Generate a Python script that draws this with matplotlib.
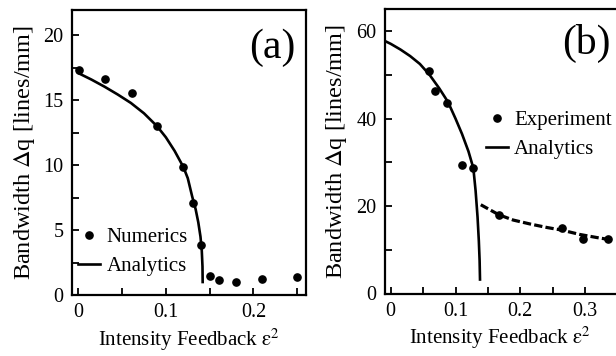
import matplotlib
matplotlib.use("Agg")
import matplotlib.pyplot as plt
from matplotlib.ticker import FixedLocator, FixedFormatter, MultipleLocator

plt.rcParams['font.family'] = ['Liberation Serif', 'DejaVu Serif']
plt.rcParams['mathtext.fontset'] = 'stix'

# ---- Panel (a) data ----
a_num_x = [0.001, 0.031, 0.061, 0.0895, 0.120, 0.1306, 0.1397, 0.1507, 0.161, 0.180, 0.210, 0.250]
a_num_y = [17.35, 16.65, 15.55, 13.0, 9.86, 7.09, 3.88, 1.5, 1.14, 0.98, 1.25, 1.37]
a_ana_x = [0.0, 0.015, 0.030, 0.045, 0.060, 0.075, 0.090, 0.100, 0.110, 0.120,
           0.125, 0.130, 0.134, 0.137, 0.1395, 0.1410, 0.1418, 0.1420]
a_ana_y = [17.1, 16.6, 16.05, 15.45, 14.8, 14.0, 13.0, 12.15, 11.1, 9.86,
           9.0, 7.6, 6.6, 5.6, 4.5, 3.4, 2.2, 1.0]
a_xticks = [0.0, 0.1, 0.2]
a_xtick_labels = ["0", "0.1", "0.2"]
a_yticks = [0, 5, 10, 15, 20]

# ---- Panel (b) data ----
b_exp_x = [0.0586, 0.0688, 0.0864, 0.1095, 0.1275, 0.1676, 0.264, 0.297, 0.336]
b_exp_y = [51.0, 46.3, 43.6, 29.4, 28.7, 18.0, 14.9, 12.4, 12.4]
b_ana_x = [-0.0083, 0.0, 0.015, 0.030, 0.045, 0.060, 0.075, 0.0884, 0.100, 0.110,
           0.120, 0.1275, 0.131, 0.134, 0.136, 0.1372, 0.1378]
b_ana_y = [57.7, 57.1, 55.8, 54.3, 52.5, 50.0, 46.9, 43.8, 40.0, 36.5,
           32.5, 28.7, 23.5, 17.5, 12.0, 7.5, 3.2]
b_dash_x = [0.139, 0.167, 0.189, 0.215, 0.241, 0.264, 0.292, 0.318, 0.343]
b_dash_y = [20.3, 18.0, 16.8, 15.9, 15.1, 14.5, 13.5, 12.8, 12.2]
b_xticks = [0.0, 0.1, 0.2, 0.3]
b_xtick_labels = ["0", "0.1", "0.2", "0.3"]
b_yticks = [0, 20, 40, 60]

W, H = 616, 356
fig = plt.figure(figsize=(W / 100, H / 100), dpi=100)

def px_axes(l, r, t, b):
    return fig.add_axes([l / W, 1 - b / H, (r - l) / W, (b - t) / H])

axa = px_axes(72, 306, 9.5, 295)
axb = px_axes(384.7, 616, 9.3, 293.5)

XLBL = 15
YLBL = 17.5
TCK = 14.5
LEG = 15

def style(ax):
    for s in ax.spines.values():
        s.set_linewidth(1.6)
    ax.tick_params(which='both', direction='in', length=5, width=1.3,
                   labelsize=TCK, pad=6)

# Panel a
axa.plot(a_ana_x, a_ana_y, color='black', lw=1.9, label='Analytics', zorder=2)
axa.plot(a_num_x, a_num_y, 'o', color='black', ms=5.2, label='Numerics', zorder=3)
axa.set_xlim(-0.0072, 0.26)
axa.set_ylim(0, 22)
axa.xaxis.set_major_locator(FixedLocator(a_xticks))
axa.xaxis.set_major_formatter(FixedFormatter(a_xtick_labels))
axa.xaxis.set_minor_locator(MultipleLocator(0.05))
axa.yaxis.set_major_locator(FixedLocator(a_yticks))
axa.yaxis.set_minor_locator(MultipleLocator(2.5))
style(axa)
axa.set_xlabel(r"Intensity Feedback $\mathrm{\varepsilon}^2$", fontsize=XLBL, labelpad=3)
axa.set_ylabel(r"Bandwidth $\Delta$q [lines/mm]", fontsize=YLBL, labelpad=5)
axa.text(0.855, 0.865, "(a)", transform=axa.transAxes, fontsize=30,
         ha='center', va='center')
h, l = axa.get_legend_handles_labels()
axa.legend([h[1], h[0]], [l[1], l[0]], loc='lower left', bbox_to_anchor=(0.0, 0.045),
           frameon=False, fontsize=LEG, handlelength=1.05, handletextpad=0.3,
           labelspacing=0.45, borderpad=0, borderaxespad=0.3)

# Panel b
axb.plot(b_ana_x, b_ana_y, color='black', lw=1.9, label='Analytics', zorder=2)
axb.plot(b_dash_x, b_dash_y, color='black', lw=2.3, linestyle=(0, (2.6, 1.0)), zorder=2)
axb.plot(b_exp_x, b_exp_y, 'o', color='black', ms=5.2, label='Experiment', zorder=3)
axb.set_xlim(-0.0093, 0.3477)
axb.set_ylim(0, 65)
axb.xaxis.set_major_locator(FixedLocator(b_xticks))
axb.xaxis.set_major_formatter(FixedFormatter(b_xtick_labels))
axb.xaxis.set_minor_locator(MultipleLocator(0.05))
axb.yaxis.set_major_locator(FixedLocator(b_yticks))
axb.yaxis.set_minor_locator(MultipleLocator(10))
style(axb)
axb.spines['right'].set_visible(False)
axb.set_xlabel(r"Intensity Feedback $\mathrm{\varepsilon}^2$", fontsize=XLBL, labelpad=3)
axb.set_ylabel(r"Bandwidth $\Delta$q [lines/mm]", fontsize=YLBL, labelpad=5)
axb.text(0.87, 0.88, "(b)", transform=axb.transAxes, fontsize=30,
         ha='center', va='center')
h, l = axb.get_legend_handles_labels()
axb.legend([h[1], h[0]], [l[1], l[0]], loc='lower left', bbox_to_anchor=(0.41, 0.45),
           frameon=False, fontsize=LEG, handlelength=1.05, handletextpad=0.3,
           labelspacing=0.45, borderpad=0, borderaxespad=0.3)

fig.savefig("out.png", dpi=100)
